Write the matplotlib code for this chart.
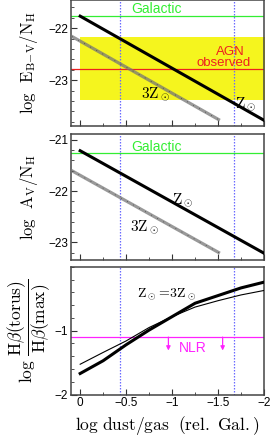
import numpy as np
import matplotlib
matplotlib.use("Agg")
import matplotlib.pyplot as plt

plt.rcParams['mathtext.fontset'] = 'cm'
plt.rcParams['font.family'] = ['Liberation Sans', 'DejaVu Sans']

# data
z_x = [0.0, -2.0]
z3_x = [0.48, -1.52]
ebv_z = [-21.77, -23.77]
av_z = [-21.21, -23.21]
ebv_gal = -21.77
av_gal = -21.26
agn_band = [-22.18, -23.39]
agn_obs = -22.78
blue_x = [-0.43, -1.67]

hb_x = [0.0, -0.25, -0.5, -0.75, -1.0, -1.25, -1.5, -1.75, -2.0]
hb_thick = [-1.67, -1.47, -1.22, -0.99, -0.78, -0.57, -0.45, -0.33, -0.24]
hb_thin = [-1.525, -1.34, -1.16, -0.95, -0.78, -0.63, -0.53, -0.44, -0.37]
nlr = -1.1
nlr_arrows = [-0.96, -1.55]

fig = plt.figure(figsize=(2.73, 4.36), dpi=100)
L, W = 0.26, 0.707
ax1 = fig.add_axes([L, 0.711, W, 0.289])
ax2 = fig.add_axes([L, 0.404, W, 0.289])
ax3 = fig.add_axes([L, 0.095, W, 0.293])

green = '#33ee33'
blue = '#6a6aff'
red = '#ee2020'
magenta = '#ff22ff'

def style(ax):
    ax.set_xlim(0.1, -2.0)
    ax.set_xticks([0, -0.5, -1, -1.5, -2])
    ax.set_xticks(np.arange(0, -2.01, -0.25), minor=True)
    ax.tick_params(which='both', direction='in', top=False, right=False,
                   labelsize=8.5, pad=2, color='#333333')
    ax.tick_params(which='major', length=4.5)
    ax.tick_params(which='minor', length=2.5)
    for s in ax.spines.values():
        s.set_color('#444444')
        s.set_linewidth(1.1)
    for bx in blue_x:
        ax.axvline(bx, color=blue, lw=0.9, ls=(0, (1.2, 1.2)), zorder=1)

def three_z(ax, y):
    ax.plot(z3_x, y, color='#777777', lw=2.3, alpha=0.75, solid_capstyle='butt', zorder=3)
    ax.plot(z3_x, y, color='#222222', lw=0.5, ls=(0, (1, 9)), zorder=4)

# panel 1
style(ax1)
ax1.set_ylim(-23.88, -21.46)
ax1.set_yticks([-22, -23])
ax1.set_yticks(np.arange(-21.6, -23.9, -0.2), minor=True)
ax1.set_xticklabels([])
ax1.fill_between([0, -2.1], agn_band[0], agn_band[1], color='#f5f51e', lw=0, zorder=0)
ax1.axhline(ebv_gal, color=green, lw=0.9, zorder=2)
ax1.axhline(agn_obs, color=red, lw=0.9, zorder=2)
ax1.plot(z_x, ebv_z, color='black', lw=2.2, zorder=5)
three_z(ax1, ebv_z)
ax1.text(-0.83, -21.64, 'Galactic', color=green, fontsize=10, ha='center', va='center')
ax1.text(-1.63, -22.51, 'AGN', color=red, fontsize=9.5, ha='center', va='baseline')
ax1.text(-1.565, -22.733, 'observed', color=red, fontsize=9.5, ha='center', va='baseline')
ax1.text(-0.82, -23.27, r'$\mathrm{3Z}_\odot$', fontsize=11, ha='center', va='center')
ax1.text(-1.8, -23.47, r'$\mathrm{Z}_\odot$', fontsize=11, ha='center', va='center')
ax1.set_ylabel(r'$\mathrm{log\ \ E_{B\!-\!V}/N_H}$', fontsize=12, labelpad=6)

# panel 2
style(ax2)
ax2.set_ylim(-23.34, -20.88)
ax2.set_yticks([-21, -22, -23])
ax2.set_yticks(np.arange(-21.0, -23.4, -0.2), minor=True)
ax2.set_xticklabels([])
ax2.axhline(av_gal, color=green, lw=0.9, zorder=2)
ax2.plot(z_x, av_z, color='black', lw=2.2, zorder=5)
three_z(ax2, av_z)
ax2.text(-0.83, -21.13, 'Galactic', color=green, fontsize=10, ha='center', va='center')
ax2.text(-1.12, -22.18, r'$\mathrm{Z}_\odot$', fontsize=11, ha='center', va='center')
ax2.text(-0.7, -22.7, r'$\mathrm{3Z}_\odot$', fontsize=11, ha='center', va='center')
ax2.set_ylabel(r'$\mathrm{log\ \ A_V/N_H}$', fontsize=12, labelpad=6)

# panel 3
style(ax3)
ax3.set_ylim(-2, 0)
ax3.set_yticks([-1, -2])
ax3.set_yticks(np.arange(0, -2.01, -0.2), minor=True)
ax3.set_xticklabels(['0', '\u22120.5', '\u22121', '\u22121.5', '\u22122'])
ax3.axhline(nlr, color=magenta, lw=0.9, zorder=2)
for ax_ in nlr_arrows:
    ax3.annotate('', xy=(ax_, -1.31), xytext=(ax_, nlr),
                 arrowprops=dict(arrowstyle='-|>', color=magenta, lw=0.9,
                                 mutation_scale=6, shrinkA=0, shrinkB=0))
ax3.text(-1.23, -1.27, 'NLR', color=magenta, fontsize=10, ha='center', va='center')
ax3.plot(hb_x, hb_thin, color='black', lw=0.8, zorder=4)
ax3.plot(hb_x, hb_thick, color='black', lw=2.2, zorder=5)
ax3.text(-0.94, -0.43, r'$\mathrm{Z}_\odot\!=\!\mathrm{3Z}_\odot$', fontsize=10, ha='center', va='center')
ax3.set_ylabel(r'$\mathrm{log}\ \dfrac{\mathrm{H}\beta(\mathrm{torus})}{\mathrm{H}\beta(\mathrm{max})}$',
               fontsize=12.5, labelpad=1)
ax3.set_xlabel(r'$\mathrm{log\ dust/gas\ \ (rel.\ Gal.)}$', fontsize=12.5, labelpad=3)

fig.savefig('out.png', dpi=100)
